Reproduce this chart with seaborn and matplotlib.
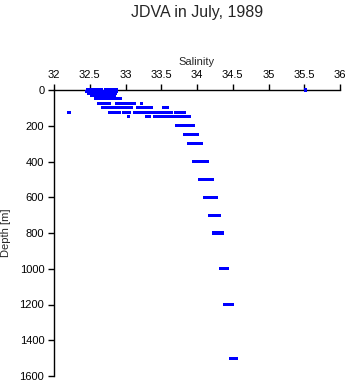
import numpy as np
import pandas as pd
import matplotlib
matplotlib.use("Agg")
import matplotlib.pyplot as plt
import seaborn as sns

# Salinity values observed at each standard depth (m)
s_0 = [32.47, 32.49, 32.51, 32.53, 32.55, 32.57, 32.59, 32.61, 32.63, 32.65, 32.67,
       32.72, 32.74, 32.76, 32.78, 32.80, 32.82, 32.84, 32.86, 32.88, 35.52]
s_10 = [32.46, 32.48, 32.50, 32.52, 32.54, 32.56, 32.58, 32.60, 32.62, 32.64, 32.66,
        32.71, 32.73, 32.75, 32.77, 32.79, 32.81, 32.83, 32.85, 32.87]
s_20 = [32.49, 32.51, 32.53, 32.55, 32.57, 32.59, 32.61, 32.63, 32.65, 32.67,
        32.70, 32.72, 32.74, 32.76, 32.78, 32.80, 32.82, 32.84, 32.86]
s_30 = [32.52, 32.54, 32.56, 32.58, 32.60, 32.62, 32.64, 32.66, 32.68, 32.70,
        32.72, 32.74, 32.76, 32.78, 32.80, 32.82, 32.84]
s_50 = [32.58, 32.60, 32.62, 32.64, 32.66, 32.68, 32.70, 32.72, 32.74, 32.76, 32.78,
        32.80, 32.82, 32.84, 32.86, 32.88, 32.90, 32.93]
s_75 = [32.63, 32.65, 32.67, 32.69, 32.71, 32.73, 32.75, 32.77, 32.87, 32.89, 32.91,
        32.93, 32.95, 32.97, 32.99, 33.01, 33.03, 33.05, 33.07, 33.09, 33.11, 33.13, 33.22]
s_100 = [32.68, 32.70, 32.72, 32.74, 32.76, 32.78, 32.80, 32.82, 32.84, 32.88, 32.90,
         32.92, 32.94, 32.96, 32.98, 33.00, 33.02, 33.04, 33.06, 33.08, 33.17, 33.19,
         33.21, 33.23, 33.25, 33.30, 33.32, 33.34, 33.36, 33.53, 33.55, 33.57, 33.59]
s_125 = [32.21, 32.78, 32.80, 32.82, 32.85, 32.87, 32.89, 32.91, 32.97, 32.99, 33.01,
         33.03, 33.05, 33.13, 33.15, 33.17, 33.19, 33.21, 33.23, 33.25, 33.27, 33.29,
         33.31, 33.33, 33.35, 33.37, 33.42, 33.44, 33.46, 33.48, 33.50, 33.52, 33.54,
         33.56, 33.58, 33.60, 33.62, 33.64, 33.70, 33.72, 33.74, 33.76, 33.78, 33.80, 33.82]
s_150 = [33.04, 33.30, 33.33, 33.40, 33.42, 33.44, 33.46, 33.48, 33.50, 33.52, 33.54,
         33.56, 33.58, 33.60, 33.62, 33.64, 33.66, 33.68, 33.70, 33.72, 33.74, 33.76,
         33.78, 33.80, 33.82, 33.84, 33.86, 33.88, 33.90]
s_200 = [33.71, 33.73, 33.75, 33.77, 33.79, 33.81, 33.83, 33.85, 33.87, 33.89, 33.91,
         33.93, 33.95]
s_250 = [33.83, 33.85, 33.87, 33.89, 33.91, 33.93, 33.95, 33.97, 33.99, 34.01]
s_300 = [33.88, 33.90, 33.92, 33.94, 33.96, 33.98, 34.00, 34.02, 34.04, 34.06]
s_400 = [33.95, 33.97, 33.99, 34.01, 34.03, 34.05, 34.07, 34.09, 34.11, 34.13, 34.15]
s_500 = [34.04, 34.06, 34.08, 34.10, 34.12, 34.14, 34.16, 34.18, 34.20, 34.22]
s_600 = [34.11, 34.13, 34.15, 34.17, 34.19, 34.21, 34.23, 34.25, 34.27]
s_700 = [34.18, 34.20, 34.22, 34.24, 34.26, 34.28, 34.30, 34.32]
s_800 = [34.23, 34.25, 34.27, 34.29, 34.31, 34.33, 34.35]
s_1000 = [34.33, 34.35, 34.37, 34.39, 34.41, 34.43]
s_1200 = [34.39, 34.41, 34.43, 34.45, 34.47, 34.49]
s_1500 = [34.47, 34.49, 34.51, 34.53, 34.55]

depths = [0, 10, 20, 30, 50, 75, 100, 125, 150, 200, 250, 300, 400, 500, 600, 700,
          800, 1000, 1200, 1500]
salinity_by_depth = [s_0, s_10, s_20, s_30, s_50, s_75, s_100, s_125, s_150, s_200,
                     s_250, s_300, s_400, s_500, s_600, s_700, s_800, s_1000, s_1200, s_1500]

x_ticks = [32, 32.5, 33, 33.5, 34, 34.5, 35, 35.5, 36]
x_labels = ["32", "32.5", "33", "33.5", "34", "34.5", "35", "35.5", "36"]
y_ticks = [0, 200, 400, 600, 800, 1000, 1200, 1400, 1600]

rows = []
for d, vals in zip(depths, salinity_by_depth):
    for v in vals:
        rows.append({"Salinity": v, "Depth": d})
df = pd.DataFrame(rows)

sns.set_style("ticks")
plt.rcParams["font.family"] = ["Liberation Sans", "DejaVu Sans"]

fig = plt.figure(figsize=(3.48, 3.84), dpi=100)
ax = fig.add_axes([54 / 348, 1 - 376 / 384, (340 - 54) / 348, (376 - 90) / 384])

sns.scatterplot(data=df, x="Salinity", y="Depth", ax=ax, color="#0000ff",
                marker="s", s=5, linewidth=0, edgecolor="none",
                clip_on=False, zorder=5)

ax.set_xlim(32, 36)
ax.set_ylim(1600, 0)
ax.xaxis.set_ticks_position("top")
ax.xaxis.set_label_position("top")
ax.set_xticks(x_ticks)
ax.set_xticklabels(x_labels)
ax.set_yticks(y_ticks)
ax.tick_params(axis="both", direction="out", length=4, width=1, labelsize=8,
               colors="black", pad=3)
for side in ["right", "bottom"]:
    ax.spines[side].set_visible(False)
for side in ["top", "left"]:
    ax.spines[side].set_linewidth(1)
    ax.spines[side].set_color("black")

ax.set_xlabel("Salinity", fontsize=8, labelpad=4)
ax.set_ylabel("Depth [m]", fontsize=8, labelpad=6)

fig.text(197 / 348, 1 - 12 / 384, "JDVA in July, 1989", ha="center", va="center",
         fontsize=11.5)

fig.savefig("out.png", dpi=100)
